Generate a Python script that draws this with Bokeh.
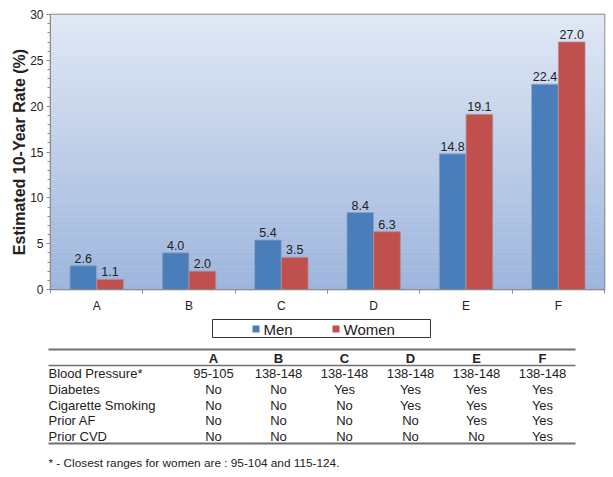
from bokeh.plotting import figure
from bokeh.layouts import column, row
from bokeh.models import Range1d, FixedTicker, SingleIntervalTicker, ColumnDataSource, LinearAxis
from bokeh.core.properties import value
from bokeh.embed import file_html
from bokeh.resources import INLINE

# ---------------- data ----------------
categories = ["A", "B", "C", "D", "E", "F"]
men = [2.6, 4.0, 5.4, 8.4, 14.8, 22.4]
women = [1.1, 2.0, 3.5, 6.3, 19.1, 27.0]
series_names = ["Men", "Women"]
y_title = "Estimated 10-Year Rate (%)"

row_labels = ["Blood Pressure*", "Diabetes", "Cigarette Smoking", "Prior AF", "Prior CVD"]
row_values = [
    ["95-105", "138-148", "138-148", "138-148", "138-148", "138-148"],
    ["No", "No", "Yes", "Yes", "Yes", "Yes"],
    ["No", "No", "No", "Yes", "Yes", "Yes"],
    ["No", "No", "No", "No", "Yes", "Yes"],
    ["No", "No", "No", "No", "No", "Yes"],
]
footnote = "* - Closest ranges for women are : 95-104 and 115-124."

FONT = "Liberation Sans"
TXT = "#222222"
BLUE = "#4a7ebb"
RED = "#c0504d"

# ---------------- chart ----------------
n = len(categories)
TOP_H = 315
p = figure(width=608, height=TOP_H, x_range=Range1d(0, n), y_range=Range1d(0, 30),
           output_backend="svg", toolbar_location=None,
           min_border_left=50, min_border_right=4, min_border_top=14, min_border_bottom=26)
p.xgrid.visible = False
p.ygrid.visible = False
p.background_fill_color = None
p.border_fill_color = "white"
p.outline_line_color = "#707070"
p.outline_line_width = 1.5

# gradient background (decoration)
steps = 60
top_c = (0xe0, 0xe8, 0xf5)
bot_c = (0x9d, 0xb5, 0xdd)
bg_b, bg_t, bg_col = [], [], []
for k in range(steps):
    f = (k + 0.5) / steps
    c = tuple(int(round(bot_c[j] + (top_c[j] - bot_c[j]) * f)) for j in range(3))
    bg_b.append(30 * k / steps)
    bg_t.append(30 * (k + 1) / steps)
    bg_col.append("#%02x%02x%02x" % c)
p.quad(left=0, right=n, bottom=bg_b, top=bg_t, fill_color=bg_col, line_color=bg_col, line_width=0.6)

centers = [i + 0.5 for i in range(n)]
off = 0.145
bw = 0.288
src = ColumnDataSource(dict(
    xm=[c - off for c in centers], xw=[c + off for c in centers],
    men=men, women=women,
    men_txt=["%.1f" % v for v in men], women_txt=["%.1f" % v for v in women],
))
p.vbar(x="xm", top="men", width=bw, bottom=0, source=src, fill_color=BLUE,
       line_color="#8ea3c4", line_width=0.8)
p.vbar(x="xw", top="women", width=bw, bottom=0, source=src, fill_color=RED,
       line_color="#b48a8e", line_width=0.8)
p.text(x="xm", y="men", text="men_txt", source=src, text_align="center", text_baseline="bottom",
       y_offset=-3, text_font=value(FONT), text_font_size="12.5px", text_color=TXT)
p.text(x="xw", y="women", text="women_txt", source=src, text_align="center", text_baseline="bottom",
       y_offset=-3, text_font=value(FONT), text_font_size="12.5px", text_color=TXT)

# axes
p.yaxis.ticker = SingleIntervalTicker(interval=5, num_minor_ticks=5)
p.yaxis.major_label_text_font = FONT
p.yaxis.major_label_text_font_size = "12px"
p.yaxis.major_label_text_color = TXT
p.yaxis.major_label_standoff = 3
p.yaxis.major_tick_in = 0
p.yaxis.major_tick_out = 4
p.yaxis.minor_tick_in = 0
p.yaxis.minor_tick_out = 3
p.yaxis.axis_line_color = "#8c8c8c"
p.yaxis.major_tick_line_color = "#8c8c8c"
p.yaxis.minor_tick_line_color = "#8c8c8c"

# outer axis carrying only the title (bounds put its centre where the reference has it)
title_axis = LinearAxis(bounds=(5.1, 30), ticker=FixedTicker(ticks=[]),
                        axis_line_color=None, major_tick_line_color=None, minor_tick_line_color=None,
                        major_label_text_font_size="0px", major_label_standoff=0,
                        major_tick_out=0, minor_tick_out=0,
                        axis_label=y_title, axis_label_standoff=0,
                        axis_label_text_font=FONT, axis_label_text_font_style="bold",
                        axis_label_text_font_size="16px", axis_label_text_color=TXT)
p.add_layout(title_axis, "left")

p.xaxis.ticker = FixedTicker(ticks=centers, minor_ticks=list(range(n + 1)))
p.xaxis.major_label_overrides = {c: lab for c, lab in zip(centers, categories)}
p.xaxis.major_label_text_font = FONT
p.xaxis.major_label_text_font_size = "12px"
p.xaxis.major_label_text_color = TXT
p.xaxis.major_label_standoff = 5
p.xaxis.major_tick_in = 0
p.xaxis.major_tick_out = 0
p.xaxis.minor_tick_in = 0
p.xaxis.minor_tick_out = 4
p.xaxis.axis_line_color = "#8c8c8c"
p.xaxis.minor_tick_line_color = "#8c8c8c"

# ---------------- legend + table ----------------
H = 160
W = 608
t = figure(width=W, height=H, x_range=Range1d(0, W), y_range=Range1d(H, 0),
           output_backend="svg", toolbar_location=None, min_border=0)
t.axis.visible = False
t.xgrid.visible = False
t.ygrid.visible = False
t.outline_line_color = None
t.background_fill_color = "white"

# legend
t.quad(left=[212], right=[430], top=[4], bottom=[22], fill_color=None, line_color="#333333", line_width=1)
t.rect(x=[255.5, 335.5], y=[13.5, 13.5], width=7, height=7, fill_color=[BLUE, RED], line_color=None)
t.text(x=[263, 343], y=[13.5, 13.5], text=series_names, text_baseline="middle", text_align="left",
       text_font=value(FONT), text_font_size="15px", text_color=TXT)

# table
col_x = [213, 278, 344, 410, 476, 542]
row_y = [58, 74, 90, 105, 121]
t.segment(x0=[48, 48, 48], x1=[575, 575, 575], y0=[34, 50, 128], y1=[34, 50, 128],
          line_color="#707070", line_width=[2, 1.5, 2])
t.text(x=col_x, y=[43] * n, text=categories, text_align="center", text_baseline="middle",
       text_font=value(FONT), text_font_style="bold", text_font_size="13px", text_color=TXT)
t.text(x=[48] * len(row_labels), y=row_y, text=row_labels, text_align="left", text_baseline="middle",
       text_font=value(FONT), text_font_size="13px", text_color=TXT)
cx, cy, ct = [], [], []
for r, vals in enumerate(row_values):
    for c, v in enumerate(vals):
        cx.append(col_x[c])
        cy.append(row_y[r])
        ct.append(v)
t.text(x=cx, y=cy, text=ct, text_align="center", text_baseline="middle",
       text_font=value(FONT), text_font_size="13px", text_color=TXT)
t.text(x=[48], y=[147], text=[footnote], text_align="left", text_baseline="middle",
       text_font=value(FONT), text_font_size="11.8px", text_color=TXT)

layout = column(p, row(t), spacing=0)
open("out.html", "w").write(file_html(layout, INLINE))
